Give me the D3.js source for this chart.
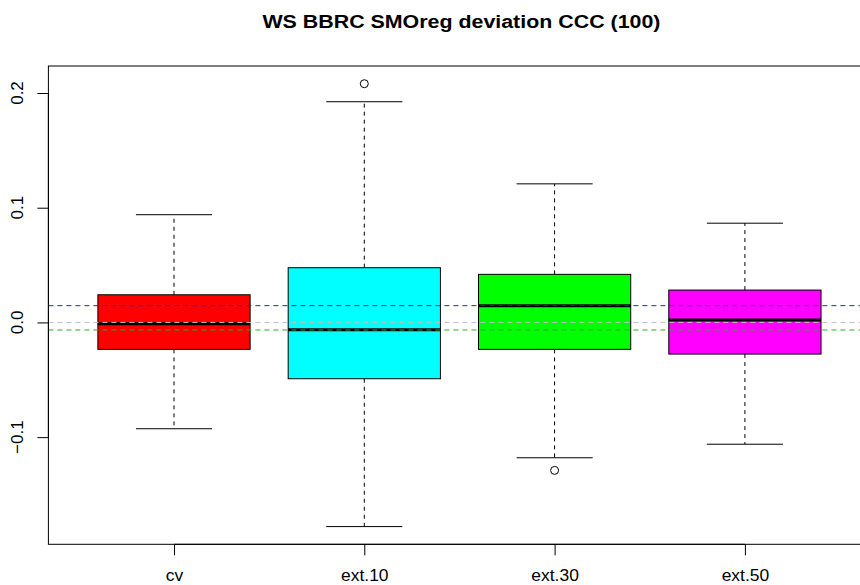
<!DOCTYPE html>
<html><head><meta charset="utf-8">
<script src="https://cdn.jsdelivr.net/npm/d3@7"></script>
<style>body{margin:0;background:#fff}svg{display:block;font-family:"Liberation Sans",Arial,sans-serif}</style>
</head><body><svg id="c" width="860" height="585"></svg>
<script>
const categories = ["cv", "ext.10", "ext.30", "ext.50"];
const colors = ["#ff0000", "#00ffff", "#00ff00", "#ff00ff"];
const lowerWhisker = [-0.0927, -0.178, -0.118, -0.1062];
const q1 = [-0.0235, -0.0491, -0.0235, -0.0276];
const median = [-0.0011, -0.0064, 0.0146, 0.0021];
const q3 = [0.0241, 0.0477, 0.0419, 0.0282];
const upperWhisker = [0.0939, 0.1924, 0.1208, 0.0865];
const outliers = [[], [0.2081], [-0.129], []];
const yTicks = [-0.1, 0.0, 0.1, 0.2];
const refLines = [{v: 0.0146, c: "#2020e0"}, {v: 0.0, c: "#bebebe"}, {v: -0.0066, c: "#20b020"}];
const title = "WS BBRC SMOreg deviation CCC (100)";

const svg = d3.select("#c");
const L = 48.4, R = 870.5, T = 66, B = 544.3;
const allV = [].concat(lowerWhisker, upperWhisker, ...outliers);
const lo = d3.min(allV), hi = d3.max(allV), pad = (hi - lo) * 0.04;
const y = d3.scaleLinear().domain([lo - pad, hi + pad]).range([B, T]);
const x = d3.scaleLinear().domain([0.34, 4.66]).range([L, R]);
const bw = (x(1.8) - x(1)) / 2; // half box width (0.4 units)

const g = svg.append("g");
categories.forEach((c, i) => {
  const cx = x(i + 1);
  g.append("line").attr("x1", cx).attr("x2", cx).attr("y1", y(q3[i])).attr("y2", y(upperWhisker[i]))
    .attr("stroke", "#000").attr("stroke-dasharray", "4,4");
  g.append("line").attr("x1", cx).attr("x2", cx).attr("y1", y(q1[i])).attr("y2", y(lowerWhisker[i]))
    .attr("stroke", "#000").attr("stroke-dasharray", "4,4");
  [upperWhisker[i], lowerWhisker[i]].forEach(v => {
    g.append("line").attr("x1", cx - bw / 2).attr("x2", cx + bw / 2).attr("y1", y(v)).attr("y2", y(v))
      .attr("stroke", "#000");
  });
  g.append("rect").attr("x", cx - bw).attr("width", 2 * bw)
    .attr("y", y(q3[i])).attr("height", y(q1[i]) - y(q3[i]))
    .attr("fill", colors[i]).attr("stroke", "#000");
  g.append("line").attr("x1", cx - bw).attr("x2", cx + bw).attr("y1", y(median[i])).attr("y2", y(median[i]))
    .attr("stroke", "#000").attr("stroke-width", 3);
  outliers[i].forEach(v => {
    g.append("circle").attr("cx", cx).attr("cy", y(v)).attr("r", 4)
      .attr("fill", "none").attr("stroke", "#000");
  });
});

refLines.forEach(r => {
  svg.append("line").attr("x1", L).attr("x2", R).attr("y1", y(r.v)).attr("y2", y(r.v))
    .attr("stroke", r.c).attr("stroke-dasharray", "5,4");
});

svg.append("rect").attr("x", L).attr("y", T).attr("width", R - L).attr("height", B - T)
  .attr("fill", "none").attr("stroke", "#000");

const ya = svg.append("g").attr("transform", `translate(${L},0)`)
  .call(d3.axisLeft(y).tickValues(yTicks).tickFormat(d3.format(".1f")).tickSize(11).tickPadding(0));
ya.select(".domain").attr("d", `M0,${y(-0.1)}V${y(0.2)}`);
ya.selectAll(".tick text").remove();
yTicks.forEach(t => {
  svg.append("text").attr("transform", `translate(23,${y(t)}) rotate(-90)`)
    .attr("text-anchor", "middle").attr("font-size", 17).text(d3.format(".1f")(t));
});

const xa = svg.append("g").attr("transform", `translate(0,${B})`)
  .call(d3.axisBottom(x).tickValues([1, 2, 3, 4]).tickFormat(d => categories[d - 1]).tickSize(11).tickPadding(0));
xa.select(".domain").attr("d", `M${x(1)},0H${x(4)}`);
xa.selectAll(".tick text").attr("font-size", 16).attr("y", 36.5).attr("dy", 0).attr("fill", "#000")
  .each(function () {
    const len = this.getComputedTextLength();
    d3.select(this).attr("textLength", len * 1.09).attr("lengthAdjust", "spacingAndGlyphs");
  });

svg.append("text").attr("x", (L + R) / 2 + 2).attr("y", 28).attr("text-anchor", "middle")
  .attr("font-size", 18).attr("font-weight", "bold")
  .attr("textLength", 398).attr("lengthAdjust", "spacingAndGlyphs").text(title);
</script></body></html>
